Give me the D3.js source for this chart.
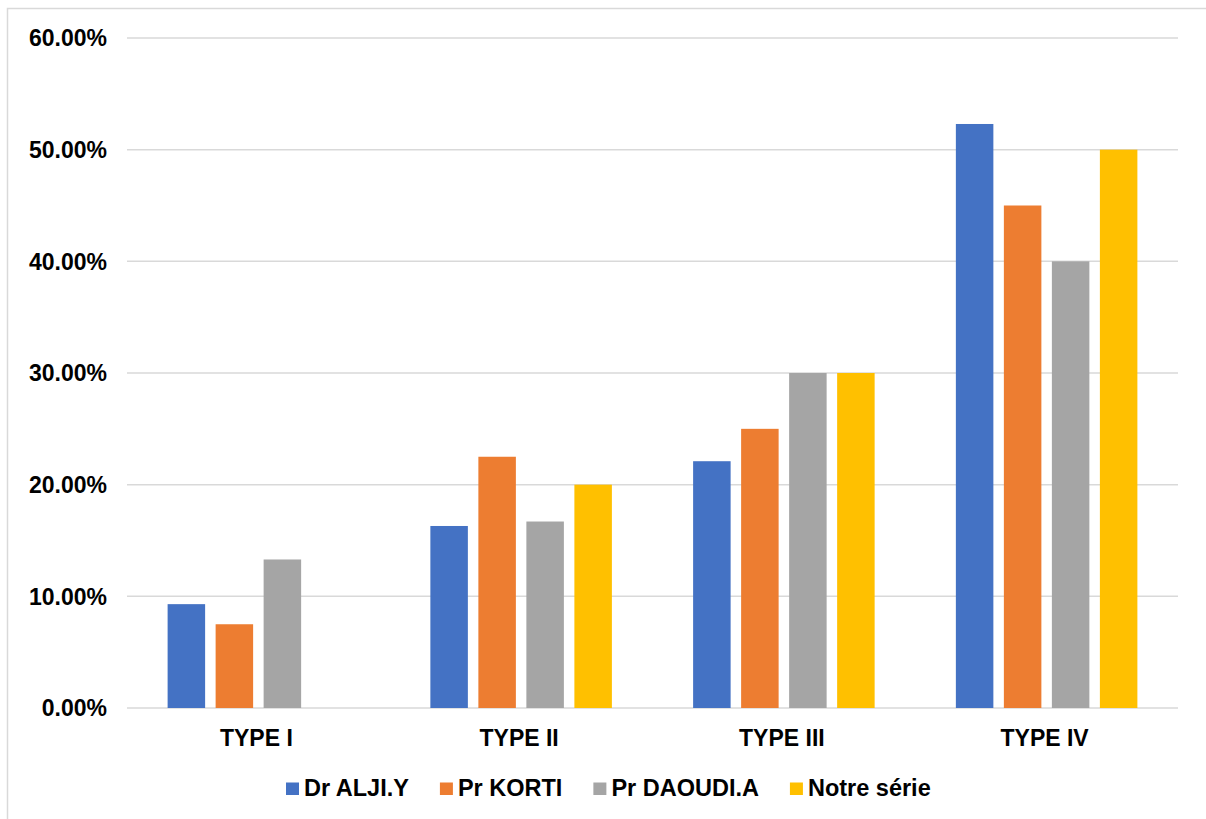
<!DOCTYPE html>
<html><head><meta charset="utf-8">
<script src="https://cdn.jsdelivr.net/npm/d3@7"></script>
<style>body{margin:0;background:#fff}svg{display:block;font-family:"Liberation Sans",Arial,sans-serif}</style>
</head><body><svg id="c" width="1206" height="819"></svg>
<script>
const categories = ["TYPE I","TYPE II","TYPE III","TYPE IV"];
const seriesNames = ["Dr ALJI.Y","Pr KORTI","Pr DAOUDI.A","Notre série"];
const drAlji = [9.3, 16.3, 22.1, 52.3];
const prKorti = [7.5, 22.5, 25.0, 45.0];
const prDaoudi = [13.3, 16.7, 30.0, 40.0];
const notreSerie = [0, 20.0, 30.0, 50.0];
const yTicks = [0,10,20,30,40,50,60];
const colors = ["#4472C4","#ED7D31","#A5A5A5","#FFC000"];
const seriesValues = [drAlji, prKorti, prDaoudi, notreSerie];

(function(){
const svg = d3.select("#c");
svg.append("rect").attr("x",7.5).attr("y",8.5).attr("width",1210).attr("height",820)
  .attr("fill","none").attr("stroke","#D9D9D9").attr("stroke-width",1.5);

const pLeft=127, pRight=1178, pTop=38, pBottom=708;
const x0 = d3.scaleBand().domain(categories).range([pLeft,pRight]).paddingInner(0).paddingOuter(0);
const x1 = d3.scaleBand().domain(seriesNames).range([0,x0.bandwidth()]).paddingInner(0.21875).paddingOuter(0.846);
const y = d3.scaleLinear().domain([0,60]).range([pBottom,pTop]);

svg.append("g").selectAll("line").data(yTicks).join("line")
  .attr("x1",pLeft).attr("x2",pRight).attr("y1",d=>y(d)).attr("y2",d=>y(d))
  .attr("stroke","#D9D9D9").attr("stroke-width",1.5);

svg.append("g").selectAll("text").data(yTicks).join("text")
  .attr("x",107).attr("y",d=>y(d)).attr("dy","0.36em").attr("text-anchor","end")
  .attr("font-size",23).attr("font-weight","bold").attr("fill","#000")
  .text(d=>d3.format(".2f")(d)+"%");

const g = svg.append("g");
categories.forEach((c,ci)=>{
  seriesNames.forEach((s,si)=>{
    const v = seriesValues[si][ci];
    if (v<=0) return;
    g.append("rect").attr("x",x0(c)+x1(s)).attr("width",x1.bandwidth())
      .attr("y",y(v)).attr("height",y(0)-y(v)).attr("fill",colors[si]);
  });
});

svg.append("g").selectAll("text").data(categories).join("text")
  .attr("x",d=>x0(d)+x0.bandwidth()/2-2).attr("y",746).attr("text-anchor","middle")
  .attr("font-size",23).attr("font-weight","bold").attr("fill","#000").text(d=>d);

const lg = svg.append("g");
let lx = 286;
seriesNames.forEach((s,i)=>{
  lg.append("rect").attr("x",lx).attr("y",782.5).attr("width",13).attr("height",12.5).attr("fill",colors[i]);
  const t = lg.append("text").attr("x",lx+18).attr("y",796).attr("font-size",23.5)
    .attr("font-weight","bold").attr("fill","#000").text(s);
  lx += 18 + t.node().getComputedTextLength() + 31;
});
})();
</script></body></html>
